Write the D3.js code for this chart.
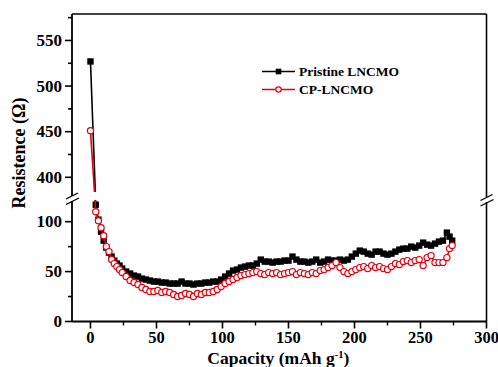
<!DOCTYPE html>
<html>
<head>
<meta charset="utf-8">
<script src="https://cdn.jsdelivr.net/npm/d3@7"></script>
<style>
html,body{margin:0;padding:0;background:#fff;}
svg{display:block;}
</style>
</head>
<body>
<svg id="chart" width="498" height="367"></svg>
<script>
const capacity = [0,4,6,8,10,12,14,16,18,20,22,24,27,30,33,36,39,42,45,48,51,54,57,60,63,66,69,72,75,78,81,84,87,90,93,96,99,102,105,108,111,114,117,120,123,126,129,132,135,138,141,144,147,150,153,156,159,162,165,168,171,174,177,180,183,186,189,192,195,198,201,204,207,210,213,216,219,222,225,228,231,234,237,240,243,246,249,252,255,258,261,264,267,270,272,274];
const pristine = [527,117,102,90,81,74,69,65,61,58,56,53,50,48,46,45,43,42,41,40,40,39,39,38,38,38,40,38,38,37,38,38,39,39,40,40,42,45,48,51,52,54,55,56,56,58,62,60,60,59,60,60,61,61,65,62,60,60,59,60,62,59,60,62,61,61,62,61,62,65,68,71,70,68,67,70,70,68,67,68,70,72,73,73,75,74,76,79,77,76,78,80,81,89,85,81];
const cp = [451,110,101,94,86,75,70,62,58,55,52,49,45,41,39,37,34,32,30,30,31,29,30,29,27,25,26,28,27,25,28,27,29,29,30,32,35,38,40,42,44,46,47,48,49,50,48,47,49,48,49,47,48,49,50,47,49,48,47,49,48,51,52,54,56,59,54,50,48,50,52,54,55,53,56,54,55,53,52,55,58,57,60,61,59,61,62,56,64,66,59,59,59,64,73,76];
const seriesNames = ["Pristine LNCMO","CP-LNCMO"];
const xTicks = [0,50,100,150,200,250,300];
const xMinor = [25,75,125,175,225,275];
const yLowTicks = [0,50,100];
const yLowMinor = [25,75];
const yHighTicks = [400,450,500,550];
const yHighMinor = [425,475,525,575];

const FONT = "'Liberation Serif', 'Times New Roman', 'DejaVu Serif', serif";
const svg = d3.select("#chart").attr("font-family", FONT).attr("font-weight", "bold");
const L = 72, R = 486.5, T = 14, B = 321.5;
const lowTop = 200, highBot = 193;

const x = d3.scaleLinear().domain([-14, 300]).range([L, R]);
const y = d3.scaleLinear().domain([0, 121.7, 382.8, 579]).range([B, lowTop, highBot, T]);
const yLow = d3.scaleLinear().domain([0, 121.7]).range([B, lowTop]);
const yHigh = d3.scaleLinear().domain([382.8, 579]).range([highBot, T]);

const defs = svg.append("defs");
const cp1 = defs.append("clipPath").attr("id","clipPanels");
cp1.append("rect").attr("x", L).attr("y", T - 6).attr("width", R - L + 4).attr("height", highBot - 1 - (T - 6));
cp1.append("rect").attr("x", L).attr("y", lowTop).attr("width", R - L + 4).attr("height", B - lowTop);

const axisColor = "#000";
svg.append("line").attr("x1", L).attr("x2", R).attr("y1", T).attr("y2", T).attr("stroke", axisColor).attr("stroke-width", 1.6);
svg.append("line").attr("x1", L).attr("x2", R).attr("y1", B).attr("y2", B).attr("stroke", axisColor).attr("stroke-width", 1.8);
svg.append("line").attr("x1", L).attr("x2", L).attr("y1", T).attr("y2", 196).attr("stroke", axisColor).attr("stroke-width", 1.8);
svg.append("line").attr("x1", L).attr("x2", L).attr("y1", 201).attr("y2", B).attr("stroke", axisColor).attr("stroke-width", 1.8);
svg.append("line").attr("x1", R).attr("x2", R).attr("y1", T).attr("y2", 197).attr("stroke", axisColor).attr("stroke-width", 1.6);
svg.append("line").attr("x1", R).attr("x2", R).attr("y1", 202).attr("y2", B).attr("stroke", axisColor).attr("stroke-width", 1.6);

function breakMark(cx, cy) {
  svg.append("line").attr("x1", cx - 6).attr("y1", cy + 1.5).attr("x2", cx + 6).attr("y2", cy - 4.5).attr("stroke", "#000").attr("stroke-width", 1.3);
  svg.append("line").attr("x1", cx - 6).attr("y1", cy + 7).attr("x2", cx + 7).attr("y2", cy + 0.5).attr("stroke", "#000").attr("stroke-width", 1.3);
}
breakMark(L, 197.5);
breakMark(R, 199);

const gx = svg.append("g");
xTicks.forEach(t => {
  gx.append("line").attr("x1", x(t)).attr("x2", x(t)).attr("y1", B).attr("y2", B + 7).attr("stroke", "#000").attr("stroke-width", 1.6);
  gx.append("text").attr("x", x(t)).attr("y", B + 21.5).attr("text-anchor", "middle").attr("font-size", 16.5).text(t);
});
xMinor.forEach(t => {
  gx.append("line").attr("x1", x(t)).attr("x2", x(t)).attr("y1", B).attr("y2", B + 4).attr("stroke", "#000").attr("stroke-width", 1.4);
});

const gy = svg.append("g");
function yTick(scale, t, major) {
  gy.append("line").attr("x1", L - (major ? 7 : 4)).attr("x2", L).attr("y1", scale(t)).attr("y2", scale(t)).attr("stroke", "#000").attr("stroke-width", 1.6);
  if (major) gy.append("text").attr("x", L - 10).attr("y", scale(t) + 5.5).attr("text-anchor", "end").attr("font-size", 17).text(t);
}
yLowTicks.forEach(t => yTick(yLow, t, true));
yLowMinor.forEach(t => yTick(yLow, t, false));
yHighTicks.forEach(t => yTick(yHigh, t, true));
yHighMinor.forEach(t => yTick(yHigh, t, false));

const xt = svg.append("text").attr("x", (L + R) / 2 - 1).attr("y", 364).attr("text-anchor", "middle").attr("font-size", 17.5);
xt.append("tspan").text("Capacity (mAh g");
xt.append("tspan").attr("dy", -6).attr("font-size", 10.5).text("-1");
xt.append("tspan").attr("dy", 6).text(")");

svg.append("text").attr("transform", "translate(25,153) rotate(-90)").attr("text-anchor", "middle").attr("font-size", 18).text("Resistence (\u03A9)");

const dataP = capacity.map((c, i) => [c, pristine[i]]);
const dataC = capacity.map((c, i) => [c, cp[i]]);
const line = d3.line().x(d => x(d[0])).y(d => y(d[1]));
const RED = "#e3000f";

const plot = svg.append("g").attr("clip-path", "url(#clipPanels)");
plot.append("path").datum(dataP).attr("d", line).attr("fill", "none").attr("stroke", "#000").attr("stroke-width", 1.6);
plot.selectAll("rect.p").data(dataP).enter().append("rect").attr("class", "p")
  .attr("x", d => x(d[0]) - 3.2).attr("y", d => y(d[1]) - 3.2).attr("width", 6.4).attr("height", 6.4).attr("fill", "#000");
plot.append("path").datum(dataC).attr("d", line).attr("fill", "none").attr("stroke", RED).attr("stroke-width", 1.6);
plot.selectAll("circle.c").data(dataC).enter().append("circle").attr("class", "c")
  .attr("cx", d => x(d[0])).attr("cy", d => y(d[1])).attr("r", 3.1).attr("fill", "#fff").attr("stroke", RED).attr("stroke-width", 1.2);

const lg = svg.append("g");
const lx0 = 262, lx1 = 295, ly = [71.5, 89.5];
lg.append("line").attr("x1", lx0).attr("x2", lx1).attr("y1", ly[0]).attr("y2", ly[0]).attr("stroke", "#000").attr("stroke-width", 1.6);
lg.append("rect").attr("x", (lx0 + lx1) / 2 - 2.8).attr("y", ly[0] - 2.8).attr("width", 5.6).attr("height", 5.6).attr("fill", "#000");
lg.append("text").attr("x", 299).attr("y", ly[0] + 4.5).attr("font-size", 13.5).text(seriesNames[0]);
lg.append("line").attr("x1", lx0).attr("x2", lx1).attr("y1", ly[1]).attr("y2", ly[1]).attr("stroke", RED).attr("stroke-width", 1.6);
lg.append("circle").attr("cx", (lx0 + lx1) / 2).attr("cy", ly[1]).attr("r", 2.7).attr("fill", "#fff").attr("stroke", RED).attr("stroke-width", 1.2);
lg.append("text").attr("x", 299).attr("y", ly[1] + 4.5).attr("font-size", 13.5).text(seriesNames[1]);
</script>
</body>
</html>
